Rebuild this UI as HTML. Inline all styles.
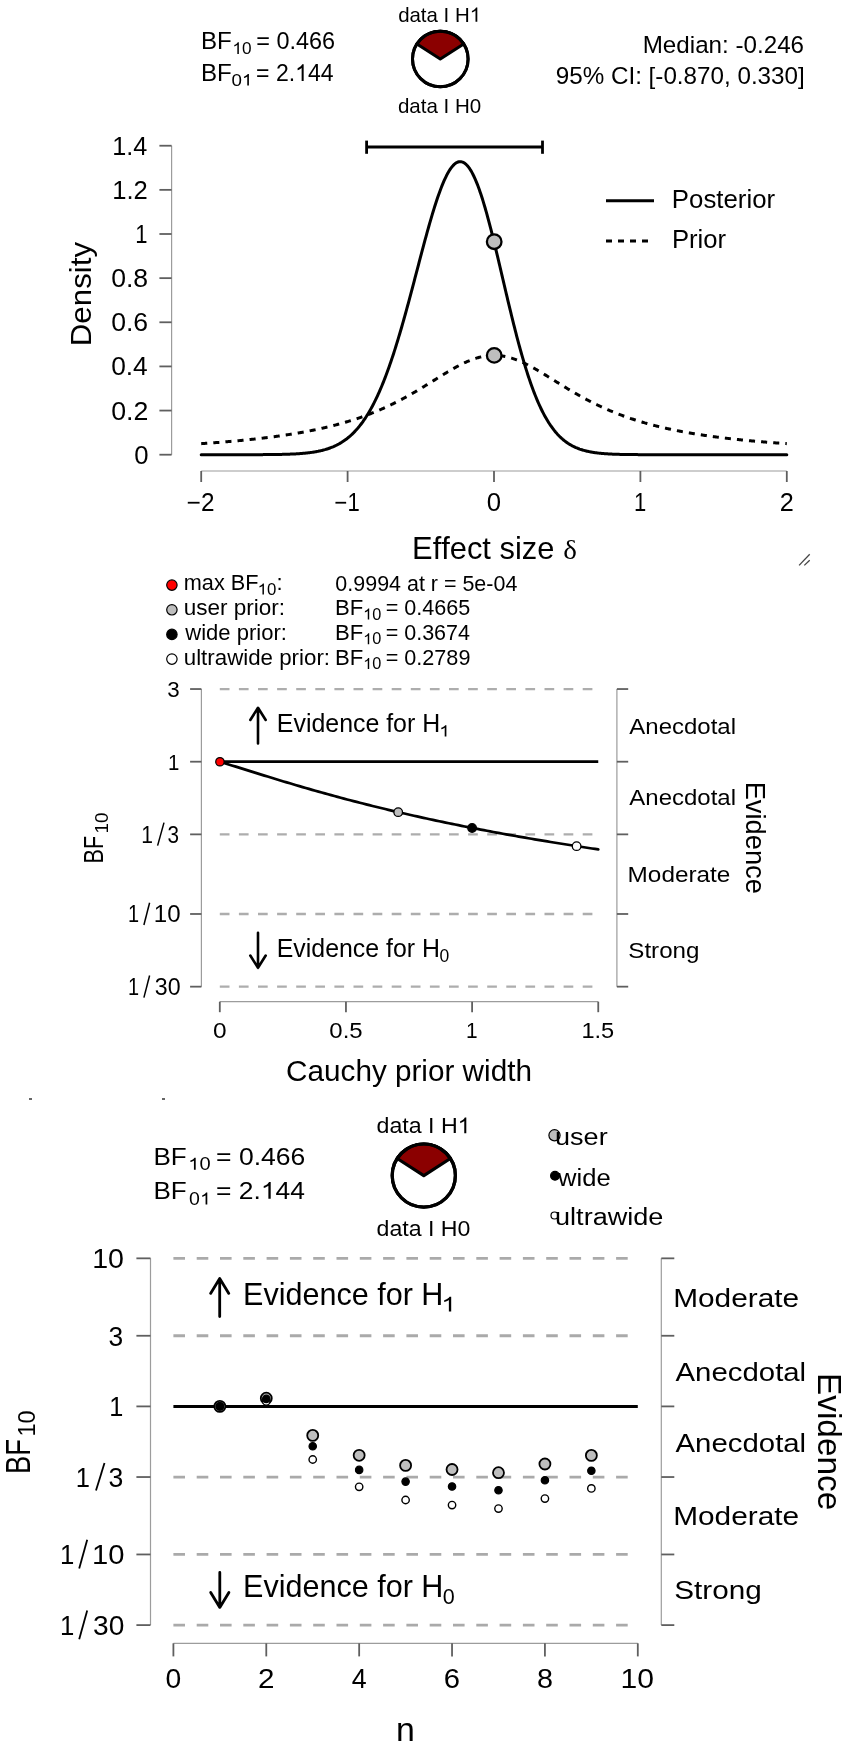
<!DOCTYPE html>
<html><head><meta charset="utf-8"><style>
html,body{margin:0;padding:0;background:#fff;}
svg{display:block;will-change:transform;}
text{font-family:"Liberation Sans",sans-serif;font-kerning:none;}
</style></head><body>
<svg width="851" height="1748" viewBox="0 0 851 1748">
<rect width="851" height="1748" fill="#fff"/>
<g id="p1">
<line x1="171.60" y1="454.70" x2="171.60" y2="145.72" stroke="#9c9c9c" stroke-width="1.2"/>
<line x1="159.40" y1="454.70" x2="171.60" y2="454.70" stroke="#5f5f5f" stroke-width="1.8"/>
<line x1="159.40" y1="410.56" x2="171.60" y2="410.56" stroke="#5f5f5f" stroke-width="1.8"/>
<line x1="159.40" y1="366.42" x2="171.60" y2="366.42" stroke="#5f5f5f" stroke-width="1.8"/>
<line x1="159.40" y1="322.28" x2="171.60" y2="322.28" stroke="#5f5f5f" stroke-width="1.8"/>
<line x1="159.40" y1="278.14" x2="171.60" y2="278.14" stroke="#5f5f5f" stroke-width="1.8"/>
<line x1="159.40" y1="234.00" x2="171.60" y2="234.00" stroke="#5f5f5f" stroke-width="1.8"/>
<line x1="159.40" y1="189.86" x2="171.60" y2="189.86" stroke="#5f5f5f" stroke-width="1.8"/>
<line x1="159.40" y1="145.72" x2="171.60" y2="145.72" stroke="#5f5f5f" stroke-width="1.8"/>
<line x1="201.20" y1="471.00" x2="786.80" y2="471.00" stroke="#9c9c9c" stroke-width="1.2"/>
<line x1="201.20" y1="471.00" x2="201.20" y2="482.00" stroke="#5f5f5f" stroke-width="1.8"/>
<line x1="347.60" y1="471.00" x2="347.60" y2="482.00" stroke="#5f5f5f" stroke-width="1.8"/>
<line x1="494.00" y1="471.00" x2="494.00" y2="482.00" stroke="#5f5f5f" stroke-width="1.8"/>
<line x1="640.40" y1="471.00" x2="640.40" y2="482.00" stroke="#5f5f5f" stroke-width="1.8"/>
<line x1="786.80" y1="471.00" x2="786.80" y2="482.00" stroke="#5f5f5f" stroke-width="1.8"/>
<text x="134.19" y="463.70" font-size="26.00" textLength="14.31" lengthAdjust="spacingAndGlyphs" fill="#000">0</text>
<text x="111.15" y="419.56" font-size="26.00" textLength="37.19" lengthAdjust="spacingAndGlyphs" fill="#000">0.2</text>
<text x="111.17" y="375.42" font-size="26.00" textLength="36.60" lengthAdjust="spacingAndGlyphs" fill="#000">0.4</text>
<text x="111.16" y="331.28" font-size="26.00" textLength="37.01" lengthAdjust="spacingAndGlyphs" fill="#000">0.6</text>
<text x="111.16" y="287.14" font-size="26.00" textLength="37.00" lengthAdjust="spacingAndGlyphs" fill="#000">0.8</text>
<text x="135.32" y="243.00" font-size="26.00" textLength="12.25" lengthAdjust="spacingAndGlyphs" fill="#000">1</text>
<text x="112.15" y="198.86" font-size="26.00" textLength="35.64" lengthAdjust="spacingAndGlyphs" fill="#000">1.2</text>
<text x="112.18" y="154.72" font-size="26.00" textLength="35.06" lengthAdjust="spacingAndGlyphs" fill="#000">1.4</text>
<text x="186.85" y="511.00" font-size="25.50" textLength="27.72" lengthAdjust="spacingAndGlyphs" fill="#000">−2</text>
<text x="334.51" y="511.00" font-size="25.50" textLength="25.17" lengthAdjust="spacingAndGlyphs" fill="#000">−1</text>
<text x="486.84" y="511.00" font-size="25.50" textLength="14.31" lengthAdjust="spacingAndGlyphs" fill="#000">0</text>
<text x="633.97" y="511.00" font-size="25.50" textLength="12.25" lengthAdjust="spacingAndGlyphs" fill="#000">1</text>
<text x="779.78" y="511.00" font-size="25.50" textLength="14.04" lengthAdjust="spacingAndGlyphs" fill="#000">2</text>
<g transform="translate(90.60,343.70) rotate(-90)"><text x="-2.57" y="0.00" font-size="29.50" textLength="104.33" lengthAdjust="spacingAndGlyphs" fill="#000">Density</text></g>
<text x="412.07" y="558.80" font-size="31.30" textLength="142.30" lengthAdjust="spacingAndGlyphs" fill="#000">Effect size</text>
<text x="563.21" y="559.0" font-size="27.5" textLength="13.68" lengthAdjust="spacingAndGlyphs" style="font-family:'Liberation Serif',serif">δ</text>
<path d="M201.20,443.66 L201.93,443.61 L202.66,443.56 L203.40,443.51 L204.13,443.46 L204.86,443.41 L205.59,443.36 L206.32,443.31 L207.06,443.26 L207.79,443.21 L208.52,443.15 L209.25,443.10 L209.98,443.05 L210.72,443.00 L211.45,442.94 L212.18,442.89 L212.91,442.83 L213.64,442.78 L214.38,442.72 L215.11,442.67 L215.84,442.61 L216.57,442.56 L217.30,442.50 L218.04,442.44 L218.77,442.39 L219.50,442.33 L220.23,442.27 L220.96,442.21 L221.70,442.15 L222.43,442.10 L223.16,442.04 L223.89,441.98 L224.62,441.92 L225.36,441.85 L226.09,441.79 L226.82,441.73 L227.55,441.67 L228.28,441.61 L229.02,441.54 L229.75,441.48 L230.48,441.42 L231.21,441.35 L231.94,441.29 L232.68,441.22 L233.41,441.16 L234.14,441.09 L234.87,441.03 L235.60,440.96 L236.34,440.89 L237.07,440.82 L237.80,440.76 L238.53,440.69 L239.26,440.62 L240.00,440.55 L240.73,440.48 L241.46,440.41 L242.19,440.34 L242.92,440.26 L243.66,440.19 L244.39,440.12 L245.12,440.05 L245.85,439.97 L246.58,439.90 L247.32,439.82 L248.05,439.75 L248.78,439.67 L249.51,439.60 L250.24,439.52 L250.98,439.44 L251.71,439.36 L252.44,439.29 L253.17,439.21 L253.90,439.13 L254.64,439.05 L255.37,438.96 L256.10,438.88 L256.83,438.80 L257.56,438.72 L258.30,438.63 L259.03,438.55 L259.76,438.47 L260.49,438.38 L261.22,438.30 L261.96,438.21 L262.69,438.12 L263.42,438.03 L264.15,437.95 L264.88,437.86 L265.62,437.77 L266.35,437.68 L267.08,437.59 L267.81,437.49 L268.54,437.40 L269.28,437.31 L270.01,437.21 L270.74,437.12 L271.47,437.02 L272.20,436.93 L272.94,436.83 L273.67,436.73 L274.40,436.64 L275.13,436.54 L275.86,436.44 L276.60,436.34 L277.33,436.24 L278.06,436.13 L278.79,436.03 L279.52,435.93 L280.26,435.82 L280.99,435.72 L281.72,435.61 L282.45,435.51 L283.18,435.40 L283.92,435.29 L284.65,435.18 L285.38,435.07 L286.11,434.96 L286.84,434.85 L287.58,434.74 L288.31,434.62 L289.04,434.51 L289.77,434.39 L290.50,434.28 L291.24,434.16 L291.97,434.04 L292.70,433.92 L293.43,433.80 L294.16,433.68 L294.90,433.56 L295.63,433.44 L296.36,433.31 L297.09,433.19 L297.82,433.06 L298.56,432.93 L299.29,432.81 L300.02,432.68 L300.75,432.55 L301.48,432.42 L302.22,432.28 L302.95,432.15 L303.68,432.02 L304.41,431.88 L305.14,431.75 L305.88,431.61 L306.61,431.47 L307.34,431.33 L308.07,431.19 L308.80,431.05 L309.54,430.90 L310.27,430.76 L311.00,430.62 L311.73,430.47 L312.46,430.32 L313.20,430.17 L313.93,430.02 L314.66,429.87 L315.39,429.72 L316.12,429.56 L316.86,429.41 L317.59,429.25 L318.32,429.09 L319.05,428.94 L319.78,428.78 L320.52,428.61 L321.25,428.45 L321.98,428.29 L322.71,428.12 L323.44,427.95 L324.18,427.78 L324.91,427.61 L325.64,427.44 L326.37,427.27 L327.10,427.10 L327.84,426.92 L328.57,426.74 L329.30,426.57 L330.03,426.39 L330.76,426.20 L331.50,426.02 L332.23,425.84 L332.96,425.65 L333.69,425.46 L334.42,425.27 L335.16,425.08 L335.89,424.89 L336.62,424.70 L337.35,424.50 L338.08,424.30 L338.82,424.10 L339.55,423.90 L340.28,423.70 L341.01,423.50 L341.74,423.29 L342.48,423.08 L343.21,422.88 L343.94,422.66 L344.67,422.45 L345.40,422.24 L346.14,422.02 L346.87,421.80 L347.60,421.58 L348.33,421.36 L349.06,421.14 L349.80,420.91 L350.53,420.69 L351.26,420.46 L351.99,420.23 L352.72,419.99 L353.46,419.76 L354.19,419.52 L354.92,419.28 L355.65,419.04 L356.38,418.80 L357.12,418.55 L357.85,418.31 L358.58,418.06 L359.31,417.81 L360.04,417.55 L360.78,417.30 L361.51,417.04 L362.24,416.78 L362.97,416.52 L363.70,416.25 L364.44,415.99 L365.17,415.72 L365.90,415.45 L366.63,415.18 L367.36,414.90 L368.10,414.63 L368.83,414.35 L369.56,414.07 L370.29,413.78 L371.02,413.50 L371.76,413.21 L372.49,412.92 L373.22,412.62 L373.95,412.33 L374.68,412.03 L375.42,411.73 L376.15,411.43 L376.88,411.13 L377.61,410.82 L378.34,410.51 L379.08,410.20 L379.81,409.88 L380.54,409.57 L381.27,409.25 L382.00,408.93 L382.74,408.60 L383.47,408.28 L384.20,407.95 L384.93,407.62 L385.66,407.28 L386.40,406.95 L387.13,406.61 L387.86,406.27 L388.59,405.92 L389.32,405.58 L390.06,405.23 L390.79,404.88 L391.52,404.52 L392.25,404.17 L392.98,403.81 L393.72,403.45 L394.45,403.08 L395.18,402.72 L395.91,402.35 L396.64,401.98 L397.38,401.61 L398.11,401.23 L398.84,400.85 L399.57,400.47 L400.30,400.09 L401.04,399.70 L401.77,399.31 L402.50,398.92 L403.23,398.53 L403.96,398.14 L404.70,397.74 L405.43,397.34 L406.16,396.94 L406.89,396.53 L407.62,396.13 L408.36,395.72 L409.09,395.31 L409.82,394.90 L410.55,394.48 L411.28,394.06 L412.02,393.64 L412.75,393.22 L413.48,392.80 L414.21,392.37 L414.94,391.95 L415.68,391.52 L416.41,391.09 L417.14,390.65 L417.87,390.22 L418.60,389.78 L419.34,389.35 L420.07,388.91 L420.80,388.47 L421.53,388.02 L422.26,387.58 L423.00,387.14 L423.73,386.69 L424.46,386.24 L425.19,385.79 L425.92,385.34 L426.66,384.89 L427.39,384.44 L428.12,383.99 L428.85,383.53 L429.58,383.08 L430.32,382.63 L431.05,382.17 L431.78,381.72 L432.51,381.26 L433.24,380.80 L433.98,380.35 L434.71,379.89 L435.44,379.43 L436.17,378.98 L436.90,378.52 L437.64,378.07 L438.37,377.61 L439.10,377.16 L439.83,376.70 L440.56,376.25 L441.30,375.80 L442.03,375.35 L442.76,374.90 L443.49,374.45 L444.22,374.01 L444.96,373.56 L445.69,373.12 L446.42,372.68 L447.15,372.24 L447.88,371.80 L448.62,371.37 L449.35,370.93 L450.08,370.50 L450.81,370.08 L451.54,369.65 L452.28,369.23 L453.01,368.82 L453.74,368.40 L454.47,367.99 L455.20,367.58 L455.94,367.18 L456.67,366.78 L457.40,366.39 L458.13,366.00 L458.86,365.61 L459.60,365.23 L460.33,364.85 L461.06,364.48 L461.79,364.12 L462.52,363.76 L463.26,363.40 L463.99,363.05 L464.72,362.71 L465.45,362.37 L466.18,362.04 L466.92,361.71 L467.65,361.40 L468.38,361.08 L469.11,360.78 L469.84,360.48 L470.58,360.19 L471.31,359.90 L472.04,359.63 L472.77,359.36 L473.50,359.10 L474.24,358.84 L474.97,358.60 L475.70,358.36 L476.43,358.13 L477.16,357.91 L477.90,357.70 L478.63,357.49 L479.36,357.30 L480.09,357.11 L480.82,356.93 L481.56,356.76 L482.29,356.60 L483.02,356.45 L483.75,356.31 L484.48,356.18 L485.22,356.06 L485.95,355.95 L486.68,355.84 L487.41,355.75 L488.14,355.67 L488.88,355.59 L489.61,355.53 L490.34,355.47 L491.07,355.43 L491.80,355.39 L492.54,355.37 L493.27,355.35 L494.00,355.35 L494.73,355.35 L495.46,355.37 L496.20,355.39 L496.93,355.43 L497.66,355.47 L498.39,355.53 L499.12,355.59 L499.86,355.67 L500.59,355.75 L501.32,355.84 L502.05,355.95 L502.78,356.06 L503.52,356.18 L504.25,356.31 L504.98,356.45 L505.71,356.60 L506.44,356.76 L507.18,356.93 L507.91,357.11 L508.64,357.30 L509.37,357.49 L510.10,357.70 L510.84,357.91 L511.57,358.13 L512.30,358.36 L513.03,358.60 L513.76,358.84 L514.50,359.10 L515.23,359.36 L515.96,359.63 L516.69,359.90 L517.42,360.19 L518.16,360.48 L518.89,360.78 L519.62,361.08 L520.35,361.40 L521.08,361.71 L521.82,362.04 L522.55,362.37 L523.28,362.71 L524.01,363.05 L524.74,363.40 L525.48,363.76 L526.21,364.12 L526.94,364.48 L527.67,364.85 L528.40,365.23 L529.14,365.61 L529.87,366.00 L530.60,366.39 L531.33,366.78 L532.06,367.18 L532.80,367.58 L533.53,367.99 L534.26,368.40 L534.99,368.82 L535.72,369.23 L536.46,369.65 L537.19,370.08 L537.92,370.50 L538.65,370.93 L539.38,371.37 L540.12,371.80 L540.85,372.24 L541.58,372.68 L542.31,373.12 L543.04,373.56 L543.78,374.01 L544.51,374.45 L545.24,374.90 L545.97,375.35 L546.70,375.80 L547.44,376.25 L548.17,376.70 L548.90,377.16 L549.63,377.61 L550.36,378.07 L551.10,378.52 L551.83,378.98 L552.56,379.43 L553.29,379.89 L554.02,380.35 L554.76,380.80 L555.49,381.26 L556.22,381.72 L556.95,382.17 L557.68,382.63 L558.42,383.08 L559.15,383.53 L559.88,383.99 L560.61,384.44 L561.34,384.89 L562.08,385.34 L562.81,385.79 L563.54,386.24 L564.27,386.69 L565.00,387.14 L565.74,387.58 L566.47,388.02 L567.20,388.47 L567.93,388.91 L568.66,389.35 L569.40,389.78 L570.13,390.22 L570.86,390.65 L571.59,391.09 L572.32,391.52 L573.06,391.95 L573.79,392.37 L574.52,392.80 L575.25,393.22 L575.98,393.64 L576.72,394.06 L577.45,394.48 L578.18,394.90 L578.91,395.31 L579.64,395.72 L580.38,396.13 L581.11,396.53 L581.84,396.94 L582.57,397.34 L583.30,397.74 L584.04,398.14 L584.77,398.53 L585.50,398.92 L586.23,399.31 L586.96,399.70 L587.70,400.09 L588.43,400.47 L589.16,400.85 L589.89,401.23 L590.62,401.61 L591.36,401.98 L592.09,402.35 L592.82,402.72 L593.55,403.08 L594.28,403.45 L595.02,403.81 L595.75,404.17 L596.48,404.52 L597.21,404.88 L597.94,405.23 L598.68,405.58 L599.41,405.92 L600.14,406.27 L600.87,406.61 L601.60,406.95 L602.34,407.28 L603.07,407.62 L603.80,407.95 L604.53,408.28 L605.26,408.60 L606.00,408.93 L606.73,409.25 L607.46,409.57 L608.19,409.88 L608.92,410.20 L609.66,410.51 L610.39,410.82 L611.12,411.13 L611.85,411.43 L612.58,411.73 L613.32,412.03 L614.05,412.33 L614.78,412.62 L615.51,412.92 L616.24,413.21 L616.98,413.50 L617.71,413.78 L618.44,414.07 L619.17,414.35 L619.90,414.63 L620.64,414.90 L621.37,415.18 L622.10,415.45 L622.83,415.72 L623.56,415.99 L624.30,416.25 L625.03,416.52 L625.76,416.78 L626.49,417.04 L627.22,417.30 L627.96,417.55 L628.69,417.81 L629.42,418.06 L630.15,418.31 L630.88,418.55 L631.62,418.80 L632.35,419.04 L633.08,419.28 L633.81,419.52 L634.54,419.76 L635.28,419.99 L636.01,420.23 L636.74,420.46 L637.47,420.69 L638.20,420.91 L638.94,421.14 L639.67,421.36 L640.40,421.58 L641.13,421.80 L641.86,422.02 L642.60,422.24 L643.33,422.45 L644.06,422.66 L644.79,422.88 L645.52,423.08 L646.26,423.29 L646.99,423.50 L647.72,423.70 L648.45,423.90 L649.18,424.10 L649.92,424.30 L650.65,424.50 L651.38,424.70 L652.11,424.89 L652.84,425.08 L653.58,425.27 L654.31,425.46 L655.04,425.65 L655.77,425.84 L656.50,426.02 L657.24,426.20 L657.97,426.39 L658.70,426.57 L659.43,426.74 L660.16,426.92 L660.90,427.10 L661.63,427.27 L662.36,427.44 L663.09,427.61 L663.82,427.78 L664.56,427.95 L665.29,428.12 L666.02,428.29 L666.75,428.45 L667.48,428.61 L668.22,428.78 L668.95,428.94 L669.68,429.09 L670.41,429.25 L671.14,429.41 L671.88,429.56 L672.61,429.72 L673.34,429.87 L674.07,430.02 L674.80,430.17 L675.54,430.32 L676.27,430.47 L677.00,430.62 L677.73,430.76 L678.46,430.90 L679.20,431.05 L679.93,431.19 L680.66,431.33 L681.39,431.47 L682.12,431.61 L682.86,431.75 L683.59,431.88 L684.32,432.02 L685.05,432.15 L685.78,432.28 L686.52,432.42 L687.25,432.55 L687.98,432.68 L688.71,432.81 L689.44,432.93 L690.18,433.06 L690.91,433.19 L691.64,433.31 L692.37,433.44 L693.10,433.56 L693.84,433.68 L694.57,433.80 L695.30,433.92 L696.03,434.04 L696.76,434.16 L697.50,434.28 L698.23,434.39 L698.96,434.51 L699.69,434.62 L700.42,434.74 L701.16,434.85 L701.89,434.96 L702.62,435.07 L703.35,435.18 L704.08,435.29 L704.82,435.40 L705.55,435.51 L706.28,435.61 L707.01,435.72 L707.74,435.82 L708.48,435.93 L709.21,436.03 L709.94,436.13 L710.67,436.24 L711.40,436.34 L712.14,436.44 L712.87,436.54 L713.60,436.64 L714.33,436.73 L715.06,436.83 L715.80,436.93 L716.53,437.02 L717.26,437.12 L717.99,437.21 L718.72,437.31 L719.46,437.40 L720.19,437.49 L720.92,437.59 L721.65,437.68 L722.38,437.77 L723.12,437.86 L723.85,437.95 L724.58,438.03 L725.31,438.12 L726.04,438.21 L726.78,438.30 L727.51,438.38 L728.24,438.47 L728.97,438.55 L729.70,438.63 L730.44,438.72 L731.17,438.80 L731.90,438.88 L732.63,438.96 L733.36,439.05 L734.10,439.13 L734.83,439.21 L735.56,439.29 L736.29,439.36 L737.02,439.44 L737.76,439.52 L738.49,439.60 L739.22,439.67 L739.95,439.75 L740.68,439.82 L741.42,439.90 L742.15,439.97 L742.88,440.05 L743.61,440.12 L744.34,440.19 L745.08,440.26 L745.81,440.34 L746.54,440.41 L747.27,440.48 L748.00,440.55 L748.74,440.62 L749.47,440.69 L750.20,440.76 L750.93,440.82 L751.66,440.89 L752.40,440.96 L753.13,441.03 L753.86,441.09 L754.59,441.16 L755.32,441.22 L756.06,441.29 L756.79,441.35 L757.52,441.42 L758.25,441.48 L758.98,441.54 L759.72,441.61 L760.45,441.67 L761.18,441.73 L761.91,441.79 L762.64,441.85 L763.38,441.92 L764.11,441.98 L764.84,442.04 L765.57,442.10 L766.30,442.15 L767.04,442.21 L767.77,442.27 L768.50,442.33 L769.23,442.39 L769.96,442.44 L770.70,442.50 L771.43,442.56 L772.16,442.61 L772.89,442.67 L773.62,442.72 L774.36,442.78 L775.09,442.83 L775.82,442.89 L776.55,442.94 L777.28,443.00 L778.02,443.05 L778.75,443.10 L779.48,443.15 L780.21,443.21 L780.94,443.26 L781.68,443.31 L782.41,443.36 L783.14,443.41 L783.87,443.46 L784.60,443.51 L785.34,443.56 L786.07,443.61 L786.80,443.66" fill="none" stroke="#000" stroke-width="3.0" stroke-linejoin="round" stroke-linecap="butt" stroke-dasharray="6.07 6.07"/>
<path d="M201.20,454.70 L201.93,454.70 L202.66,454.70 L203.40,454.70 L204.13,454.70 L204.86,454.70 L205.59,454.70 L206.32,454.70 L207.06,454.70 L207.79,454.70 L208.52,454.70 L209.25,454.70 L209.98,454.70 L210.72,454.70 L211.45,454.70 L212.18,454.70 L212.91,454.70 L213.64,454.70 L214.38,454.70 L215.11,454.70 L215.84,454.70 L216.57,454.70 L217.30,454.70 L218.04,454.70 L218.77,454.70 L219.50,454.70 L220.23,454.70 L220.96,454.70 L221.70,454.70 L222.43,454.70 L223.16,454.70 L223.89,454.70 L224.62,454.70 L225.36,454.70 L226.09,454.70 L226.82,454.70 L227.55,454.70 L228.28,454.70 L229.02,454.70 L229.75,454.70 L230.48,454.70 L231.21,454.70 L231.94,454.69 L232.68,454.69 L233.41,454.69 L234.14,454.69 L234.87,454.69 L235.60,454.69 L236.34,454.69 L237.07,454.69 L237.80,454.69 L238.53,454.69 L239.26,454.69 L240.00,454.69 L240.73,454.69 L241.46,454.69 L242.19,454.69 L242.92,454.69 L243.66,454.69 L244.39,454.68 L245.12,454.68 L245.85,454.68 L246.58,454.68 L247.32,454.68 L248.05,454.68 L248.78,454.68 L249.51,454.68 L250.24,454.67 L250.98,454.67 L251.71,454.67 L252.44,454.67 L253.17,454.67 L253.90,454.66 L254.64,454.66 L255.37,454.66 L256.10,454.66 L256.83,454.65 L257.56,454.65 L258.30,454.65 L259.03,454.65 L259.76,454.64 L260.49,454.64 L261.22,454.64 L261.96,454.63 L262.69,454.63 L263.42,454.62 L264.15,454.62 L264.88,454.61 L265.62,454.61 L266.35,454.60 L267.08,454.60 L267.81,454.59 L268.54,454.58 L269.28,454.58 L270.01,454.57 L270.74,454.56 L271.47,454.56 L272.20,454.55 L272.94,454.54 L273.67,454.53 L274.40,454.52 L275.13,454.51 L275.86,454.50 L276.60,454.49 L277.33,454.47 L278.06,454.46 L278.79,454.45 L279.52,454.44 L280.26,454.42 L280.99,454.41 L281.72,454.39 L282.45,454.37 L283.18,454.35 L283.92,454.34 L284.65,454.32 L285.38,454.30 L286.11,454.27 L286.84,454.25 L287.58,454.23 L288.31,454.20 L289.04,454.18 L289.77,454.15 L290.50,454.12 L291.24,454.09 L291.97,454.06 L292.70,454.03 L293.43,453.99 L294.16,453.95 L294.90,453.92 L295.63,453.88 L296.36,453.84 L297.09,453.79 L297.82,453.75 L298.56,453.70 L299.29,453.65 L300.02,453.60 L300.75,453.54 L301.48,453.49 L302.22,453.43 L302.95,453.36 L303.68,453.30 L304.41,453.23 L305.14,453.16 L305.88,453.09 L306.61,453.01 L307.34,452.93 L308.07,452.85 L308.80,452.76 L309.54,452.67 L310.27,452.58 L311.00,452.48 L311.73,452.38 L312.46,452.27 L313.20,452.16 L313.93,452.04 L314.66,451.92 L315.39,451.80 L316.12,451.67 L316.86,451.53 L317.59,451.39 L318.32,451.25 L319.05,451.09 L319.78,450.93 L320.52,450.77 L321.25,450.60 L321.98,450.42 L322.71,450.24 L323.44,450.05 L324.18,449.85 L324.91,449.65 L325.64,449.43 L326.37,449.21 L327.10,448.98 L327.84,448.74 L328.57,448.50 L329.30,448.24 L330.03,447.98 L330.76,447.71 L331.50,447.42 L332.23,447.13 L332.96,446.83 L333.69,446.51 L334.42,446.19 L335.16,445.85 L335.89,445.50 L336.62,445.15 L337.35,444.77 L338.08,444.39 L338.82,444.00 L339.55,443.59 L340.28,443.16 L341.01,442.73 L341.74,442.28 L342.48,441.81 L343.21,441.33 L343.94,440.84 L344.67,440.33 L345.40,439.81 L346.14,439.26 L346.87,438.71 L347.60,438.13 L348.33,437.54 L349.06,436.93 L349.80,436.30 L350.53,435.66 L351.26,434.99 L351.99,434.31 L352.72,433.61 L353.46,432.89 L354.19,432.14 L354.92,431.38 L355.65,430.60 L356.38,429.79 L357.12,428.96 L357.85,428.11 L358.58,427.24 L359.31,426.35 L360.04,425.43 L360.78,424.49 L361.51,423.52 L362.24,422.53 L362.97,421.52 L363.70,420.48 L364.44,419.41 L365.17,418.32 L365.90,417.20 L366.63,416.06 L367.36,414.89 L368.10,413.69 L368.83,412.47 L369.56,411.22 L370.29,409.94 L371.02,408.63 L371.76,407.29 L372.49,405.93 L373.22,404.53 L373.95,403.11 L374.68,401.65 L375.42,400.17 L376.15,398.66 L376.88,397.11 L377.61,395.54 L378.34,393.94 L379.08,392.30 L379.81,390.64 L380.54,388.94 L381.27,387.21 L382.00,385.46 L382.74,383.67 L383.47,381.85 L384.20,380.00 L384.93,378.12 L385.66,376.20 L386.40,374.26 L387.13,372.29 L387.86,370.28 L388.59,368.25 L389.32,366.18 L390.06,364.09 L390.79,361.96 L391.52,359.81 L392.25,357.62 L392.98,355.41 L393.72,353.16 L394.45,350.89 L395.18,348.59 L395.91,346.27 L396.64,343.91 L397.38,341.53 L398.11,339.13 L398.84,336.69 L399.57,334.24 L400.30,331.76 L401.04,329.25 L401.77,326.72 L402.50,324.17 L403.23,321.60 L403.96,319.01 L404.70,316.39 L405.43,313.76 L406.16,311.11 L406.89,308.44 L407.62,305.76 L408.36,303.06 L409.09,300.34 L409.82,297.61 L410.55,294.87 L411.28,292.12 L412.02,289.36 L412.75,286.59 L413.48,283.81 L414.21,281.03 L414.94,278.24 L415.68,275.45 L416.41,272.65 L417.14,269.86 L417.87,267.06 L418.60,264.27 L419.34,261.48 L420.07,258.70 L420.80,255.92 L421.53,253.15 L422.26,250.39 L423.00,247.64 L423.73,244.90 L424.46,242.18 L425.19,239.47 L425.92,236.78 L426.66,234.11 L427.39,231.47 L428.12,228.84 L428.85,226.24 L429.58,223.67 L430.32,221.12 L431.05,218.61 L431.78,216.12 L432.51,213.67 L433.24,211.26 L433.98,208.88 L434.71,206.54 L435.44,204.24 L436.17,201.98 L436.90,199.77 L437.64,197.61 L438.37,195.49 L439.10,193.42 L439.83,191.40 L440.56,189.44 L441.30,187.53 L442.03,185.67 L442.76,183.88 L443.49,182.14 L444.22,180.46 L444.96,178.85 L445.69,177.30 L446.42,175.81 L447.15,174.40 L447.88,173.05 L448.62,171.77 L449.35,170.56 L450.08,169.42 L450.81,168.36 L451.54,167.37 L452.28,166.46 L453.01,165.62 L453.74,164.86 L454.47,164.18 L455.20,163.58 L455.94,163.06 L456.67,162.62 L457.40,162.26 L458.13,161.99 L458.86,161.80 L459.60,161.69 L460.33,161.66 L461.06,161.72 L461.79,161.86 L462.52,162.09 L463.26,162.40 L463.99,162.79 L464.72,163.27 L465.45,163.84 L466.18,164.49 L466.92,165.22 L467.65,166.03 L468.38,166.93 L469.11,167.91 L469.84,168.97 L470.58,170.12 L471.31,171.34 L472.04,172.64 L472.77,174.02 L473.50,175.48 L474.24,177.02 L474.97,178.63 L475.70,180.31 L476.43,182.07 L477.16,183.90 L477.90,185.80 L478.63,187.76 L479.36,189.80 L480.09,191.90 L480.82,194.06 L481.56,196.28 L482.29,198.57 L483.02,200.91 L483.75,203.32 L484.48,205.77 L485.22,208.28 L485.95,210.84 L486.68,213.44 L487.41,216.10 L488.14,218.80 L488.88,221.54 L489.61,224.32 L490.34,227.14 L491.07,229.99 L491.80,232.88 L492.54,235.80 L493.27,238.75 L494.00,241.73 L494.73,244.73 L495.46,247.76 L496.20,250.80 L496.93,253.86 L497.66,256.94 L498.39,260.03 L499.12,263.14 L499.86,266.25 L500.59,269.37 L501.32,272.50 L502.05,275.63 L502.78,278.76 L503.52,281.89 L504.25,285.02 L504.98,288.14 L505.71,291.26 L506.44,294.36 L507.18,297.46 L507.91,300.55 L508.64,303.62 L509.37,306.67 L510.10,309.71 L510.84,312.73 L511.57,315.73 L512.30,318.71 L513.03,321.66 L513.76,324.59 L514.50,327.49 L515.23,330.37 L515.96,333.22 L516.69,336.04 L517.42,338.82 L518.16,341.58 L518.89,344.31 L519.62,347.00 L520.35,349.65 L521.08,352.27 L521.82,354.86 L522.55,357.41 L523.28,359.92 L524.01,362.39 L524.74,364.83 L525.48,367.22 L526.21,369.58 L526.94,371.90 L527.67,374.18 L528.40,376.42 L529.14,378.61 L529.87,380.77 L530.60,382.89 L531.33,384.96 L532.06,387.00 L532.80,388.99 L533.53,390.94 L534.26,392.85 L534.99,394.73 L535.72,396.56 L536.46,398.35 L537.19,400.10 L537.92,401.81 L538.65,403.48 L539.38,405.11 L540.12,406.70 L540.85,408.26 L541.58,409.77 L542.31,411.25 L543.04,412.69 L543.78,414.10 L544.51,415.46 L545.24,416.79 L545.97,418.09 L546.70,419.35 L547.44,420.58 L548.17,421.77 L548.90,422.93 L549.63,424.05 L550.36,425.15 L551.10,426.21 L551.83,427.24 L552.56,428.24 L553.29,429.21 L554.02,430.15 L554.76,431.06 L555.49,431.95 L556.22,432.80 L556.95,433.63 L557.68,434.44 L558.42,435.21 L559.15,435.96 L559.88,436.69 L560.61,437.40 L561.34,438.08 L562.08,438.73 L562.81,439.37 L563.54,439.98 L564.27,440.57 L565.00,441.14 L565.74,441.70 L566.47,442.23 L567.20,442.74 L567.93,443.24 L568.66,443.71 L569.40,444.17 L570.13,444.61 L570.86,445.04 L571.59,445.45 L572.32,445.85 L573.06,446.23 L573.79,446.59 L574.52,446.94 L575.25,447.28 L575.98,447.61 L576.72,447.92 L577.45,448.22 L578.18,448.51 L578.91,448.78 L579.64,449.05 L580.38,449.30 L581.11,449.55 L581.84,449.78 L582.57,450.01 L583.30,450.22 L584.04,450.43 L584.77,450.63 L585.50,450.82 L586.23,451.00 L586.96,451.18 L587.70,451.34 L588.43,451.50 L589.16,451.65 L589.89,451.80 L590.62,451.94 L591.36,452.07 L592.09,452.20 L592.82,452.32 L593.55,452.44 L594.28,452.55 L595.02,452.66 L595.75,452.76 L596.48,452.85 L597.21,452.95 L597.94,453.03 L598.68,453.12 L599.41,453.20 L600.14,453.27 L600.87,453.35 L601.60,453.42 L602.34,453.48 L603.07,453.54 L603.80,453.60 L604.53,453.66 L605.26,453.72 L606.00,453.77 L606.73,453.82 L607.46,453.86 L608.19,453.91 L608.92,453.95 L609.66,453.99 L610.39,454.03 L611.12,454.06 L611.85,454.10 L612.58,454.13 L613.32,454.16 L614.05,454.19 L614.78,454.22 L615.51,454.25 L616.24,454.27 L616.98,454.29 L617.71,454.32 L618.44,454.34 L619.17,454.36 L619.90,454.38 L620.64,454.40 L621.37,454.41 L622.10,454.43 L622.83,454.44 L623.56,454.46 L624.30,454.47 L625.03,454.49 L625.76,454.50 L626.49,454.51 L627.22,454.52 L627.96,454.53 L628.69,454.54 L629.42,454.55 L630.15,454.56 L630.88,454.57 L631.62,454.58 L632.35,454.58 L633.08,454.59 L633.81,454.60 L634.54,454.60 L635.28,454.61 L636.01,454.61 L636.74,454.62 L637.47,454.62 L638.20,454.63 L638.94,454.63 L639.67,454.64 L640.40,454.64 L641.13,454.64 L641.86,454.65 L642.60,454.65 L643.33,454.65 L644.06,454.66 L644.79,454.66 L645.52,454.66 L646.26,454.66 L646.99,454.67 L647.72,454.67 L648.45,454.67 L649.18,454.67 L649.92,454.67 L650.65,454.68 L651.38,454.68 L652.11,454.68 L652.84,454.68 L653.58,454.68 L654.31,454.68 L655.04,454.68 L655.77,454.69 L656.50,454.69 L657.24,454.69 L657.97,454.69 L658.70,454.69 L659.43,454.69 L660.16,454.69 L660.90,454.69 L661.63,454.69 L662.36,454.69 L663.09,454.69 L663.82,454.69 L664.56,454.69 L665.29,454.69 L666.02,454.69 L666.75,454.69 L667.48,454.70 L668.22,454.70 L668.95,454.70 L669.68,454.70 L670.41,454.70 L671.14,454.70 L671.88,454.70 L672.61,454.70 L673.34,454.70 L674.07,454.70 L674.80,454.70 L675.54,454.70 L676.27,454.70 L677.00,454.70 L677.73,454.70 L678.46,454.70 L679.20,454.70 L679.93,454.70 L680.66,454.70 L681.39,454.70 L682.12,454.70 L682.86,454.70 L683.59,454.70 L684.32,454.70 L685.05,454.70 L685.78,454.70 L686.52,454.70 L687.25,454.70 L687.98,454.70 L688.71,454.70 L689.44,454.70 L690.18,454.70 L690.91,454.70 L691.64,454.70 L692.37,454.70 L693.10,454.70 L693.84,454.70 L694.57,454.70 L695.30,454.70 L696.03,454.70 L696.76,454.70 L697.50,454.70 L698.23,454.70 L698.96,454.70 L699.69,454.70 L700.42,454.70 L701.16,454.70 L701.89,454.70 L702.62,454.70 L703.35,454.70 L704.08,454.70 L704.82,454.70 L705.55,454.70 L706.28,454.70 L707.01,454.70 L707.74,454.70 L708.48,454.70 L709.21,454.70 L709.94,454.70 L710.67,454.70 L711.40,454.70 L712.14,454.70 L712.87,454.70 L713.60,454.70 L714.33,454.70 L715.06,454.70 L715.80,454.70 L716.53,454.70 L717.26,454.70 L717.99,454.70 L718.72,454.70 L719.46,454.70 L720.19,454.70 L720.92,454.70 L721.65,454.70 L722.38,454.70 L723.12,454.70 L723.85,454.70 L724.58,454.70 L725.31,454.70 L726.04,454.70 L726.78,454.70 L727.51,454.70 L728.24,454.70 L728.97,454.70 L729.70,454.70 L730.44,454.70 L731.17,454.70 L731.90,454.70 L732.63,454.70 L733.36,454.70 L734.10,454.70 L734.83,454.70 L735.56,454.70 L736.29,454.70 L737.02,454.70 L737.76,454.70 L738.49,454.70 L739.22,454.70 L739.95,454.70 L740.68,454.70 L741.42,454.70 L742.15,454.70 L742.88,454.70 L743.61,454.70 L744.34,454.70 L745.08,454.70 L745.81,454.70 L746.54,454.70 L747.27,454.70 L748.00,454.70 L748.74,454.70 L749.47,454.70 L750.20,454.70 L750.93,454.70 L751.66,454.70 L752.40,454.70 L753.13,454.70 L753.86,454.70 L754.59,454.70 L755.32,454.70 L756.06,454.70 L756.79,454.70 L757.52,454.70 L758.25,454.70 L758.98,454.70 L759.72,454.70 L760.45,454.70 L761.18,454.70 L761.91,454.70 L762.64,454.70 L763.38,454.70 L764.11,454.70 L764.84,454.70 L765.57,454.70 L766.30,454.70 L767.04,454.70 L767.77,454.70 L768.50,454.70 L769.23,454.70 L769.96,454.70 L770.70,454.70 L771.43,454.70 L772.16,454.70 L772.89,454.70 L773.62,454.70 L774.36,454.70 L775.09,454.70 L775.82,454.70 L776.55,454.70 L777.28,454.70 L778.02,454.70 L778.75,454.70 L779.48,454.70 L780.21,454.70 L780.94,454.70 L781.68,454.70 L782.41,454.70 L783.14,454.70 L783.87,454.70 L784.60,454.70 L785.34,454.70 L786.07,454.70 L786.80,454.70" fill="none" stroke="#000" stroke-width="3.0" stroke-linejoin="round" stroke-linecap="round"/>
<line x1="366.63" y1="147.00" x2="542.31" y2="147.00" stroke="#000" stroke-width="3.2"/>
<line x1="366.60" y1="140.60" x2="366.60" y2="153.80" stroke="#000" stroke-width="2.8"/>
<line x1="542.50" y1="140.60" x2="542.50" y2="153.80" stroke="#000" stroke-width="2.8"/>
<circle cx="494.20" cy="241.72" r="7.30" fill="#bebebe" stroke="#000" stroke-width="2.3"/>
<circle cx="494.20" cy="355.38" r="7.30" fill="#bebebe" stroke="#000" stroke-width="2.3"/>
<line x1="606.00" y1="200.70" x2="654.00" y2="200.70" stroke="#000" stroke-width="3.0"/>
<line x1="606.00" y1="240.90" x2="648.00" y2="240.90" stroke="#000" stroke-width="3.0" stroke-dasharray="6 6"/>
<text x="671.88" y="207.80" font-size="25.30" textLength="103.24" lengthAdjust="spacingAndGlyphs" fill="#000">Posterior</text>
<text x="671.90" y="248.00" font-size="25.30" textLength="54.13" lengthAdjust="spacingAndGlyphs" fill="#000">Prior</text>
<text x="200.92" y="49.20" font-size="24.30" textLength="30.85" lengthAdjust="spacingAndGlyphs" fill="#000">BF</text>
<text x="232.43" y="54.00" font-size="17.00" textLength="19.15" lengthAdjust="spacingAndGlyphs" fill="#000"> 0</text><path transform="translate(232.43,54.00) scale(0.00841,-0.00830)" d="M763,0 L583,0 L583,1100 C520,1040 420,975 223,905 L223,1075 C330,1115 420,1165 500,1235 C560,1290 605,1350 633,1409 L763,1409 Z" fill="#000"/>
<text x="256.26" y="49.20" font-size="24.30" textLength="78.88" lengthAdjust="spacingAndGlyphs" fill="#000">= 0.466</text>
<text x="200.92" y="81.00" font-size="24.30" textLength="30.85" lengthAdjust="spacingAndGlyphs" fill="#000">BF</text>
<text x="231.47" y="85.60" font-size="17.00" textLength="20.88" lengthAdjust="spacingAndGlyphs" fill="#000">0 </text><path transform="translate(241.91,85.60) scale(0.00917,-0.00830)" d="M763,0 L583,0 L583,1100 C520,1040 420,975 223,905 L223,1075 C330,1115 420,1165 500,1235 C560,1290 605,1350 633,1409 L763,1409 Z" fill="#000"/>
<text x="256.08" y="81.00" font-size="24.30" textLength="77.40" lengthAdjust="spacingAndGlyphs" fill="#000">= 2. 44</text><path transform="translate(295.09,81.00) scale(0.01123,-0.01187)" d="M763,0 L583,0 L583,1100 C520,1040 420,975 223,905 L223,1075 C330,1115 420,1165 500,1235 C560,1290 605,1350 633,1409 L763,1409 Z" fill="#000"/>
<circle cx="440.3" cy="59" r="27.8" fill="#fff" stroke="#000" stroke-width="3"/><path d="M440.3,59 L416.92,43.96 A27.8,27.8 0 0 1 463.68,43.96 Z" fill="#8b0000" stroke="#000" stroke-width="3" stroke-linejoin="round"/><circle cx="440.3" cy="59" r="27.8" fill="none" stroke="#000" stroke-width="3"/>
<text x="398.14" y="21.80" font-size="20.80" textLength="82.91" lengthAdjust="spacingAndGlyphs" fill="#000">data I H </text><path transform="translate(469.69,21.80) scale(0.00998,-0.01016)" d="M763,0 L583,0 L583,1100 C520,1040 420,975 223,905 L223,1075 C330,1115 420,1165 500,1235 C560,1290 605,1350 633,1409 L763,1409 Z" fill="#000"/>
<text x="397.94" y="112.60" font-size="20.80" textLength="83.37" lengthAdjust="spacingAndGlyphs" fill="#000">data I H0</text>
<text x="642.72" y="52.90" font-size="24.50" textLength="161.35" lengthAdjust="spacingAndGlyphs" fill="#000">Median: -0.246</text>
<text x="555.77" y="83.90" font-size="24.50" textLength="248.96" lengthAdjust="spacingAndGlyphs" fill="#000">95% CI: [-0.870, 0.330]</text>
<line x1="799.10" y1="565.40" x2="809.70" y2="554.30" stroke="#444" stroke-width="1.3"/>
<line x1="804.30" y1="565.40" x2="809.70" y2="560.20" stroke="#444" stroke-width="1.3"/>
</g>
<g id="p2">
<circle cx="171.90" cy="585.10" r="5.20" fill="#ff0000" stroke="#000" stroke-width="1.2"/>
<circle cx="171.90" cy="609.80" r="5.20" fill="#bebebe" stroke="#000" stroke-width="1.2"/>
<circle cx="171.90" cy="634.40" r="5.20" fill="#000" stroke="#000" stroke-width="1.2"/>
<circle cx="171.90" cy="659.10" r="5.20" fill="#fff" stroke="#000" stroke-width="1.2"/>
<text x="183.76" y="590.30" font-size="22.20" textLength="74.71" lengthAdjust="spacingAndGlyphs" fill="#000">max BF</text>
<text x="257.67" y="594.50" font-size="16.00" textLength="18.69" lengthAdjust="spacingAndGlyphs" fill="#000"> 0</text><path transform="translate(257.67,594.50) scale(0.00820,-0.00781)" d="M763,0 L583,0 L583,1100 C520,1040 420,975 223,905 L223,1075 C330,1115 420,1165 500,1235 C560,1290 605,1350 633,1409 L763,1409 Z" fill="#000"/>
<text x="276.49" y="590.30" font-size="22.20" textLength="6.13" lengthAdjust="spacingAndGlyphs" fill="#000">:</text>
<text x="183.74" y="615.10" font-size="22.20" textLength="101.32" lengthAdjust="spacingAndGlyphs" fill="#000">user prior:</text>
<text x="185.23" y="639.90" font-size="22.20" textLength="101.68" lengthAdjust="spacingAndGlyphs" fill="#000">wide prior:</text>
<text x="183.75" y="664.70" font-size="22.20" textLength="146.29" lengthAdjust="spacingAndGlyphs" fill="#000">ultrawide prior:</text>
<text x="335.36" y="590.50" font-size="22.20" textLength="181.97" lengthAdjust="spacingAndGlyphs" fill="#000">0.9994 at r = 5e-04</text>
<text x="334.98" y="615.20" font-size="22.20" textLength="28.30" lengthAdjust="spacingAndGlyphs" fill="#000">BF</text>
<text x="363.13" y="619.50" font-size="16.00" textLength="18.11" lengthAdjust="spacingAndGlyphs" fill="#000"> 0</text><path transform="translate(363.13,619.50) scale(0.00795,-0.00781)" d="M763,0 L583,0 L583,1100 C520,1040 420,975 223,905 L223,1075 C330,1115 420,1165 500,1235 C560,1290 605,1350 633,1409 L763,1409 Z" fill="#000"/>
<text x="385.65" y="615.20" font-size="22.20" textLength="84.66" lengthAdjust="spacingAndGlyphs" fill="#000">= 0.4665</text>
<text x="334.98" y="640.00" font-size="22.20" textLength="28.30" lengthAdjust="spacingAndGlyphs" fill="#000">BF</text>
<text x="363.13" y="644.30" font-size="16.00" textLength="18.11" lengthAdjust="spacingAndGlyphs" fill="#000"> 0</text><path transform="translate(363.13,644.30) scale(0.00795,-0.00781)" d="M763,0 L583,0 L583,1100 C520,1040 420,975 223,905 L223,1075 C330,1115 420,1165 500,1235 C560,1290 605,1350 633,1409 L763,1409 Z" fill="#000"/>
<text x="385.65" y="640.00" font-size="22.20" textLength="84.38" lengthAdjust="spacingAndGlyphs" fill="#000">= 0.3674</text>
<text x="334.98" y="664.80" font-size="22.20" textLength="28.30" lengthAdjust="spacingAndGlyphs" fill="#000">BF</text>
<text x="363.13" y="669.10" font-size="16.00" textLength="18.11" lengthAdjust="spacingAndGlyphs" fill="#000"> 0</text><path transform="translate(363.13,669.10) scale(0.00795,-0.00781)" d="M763,0 L583,0 L583,1100 C520,1040 420,975 223,905 L223,1075 C330,1115 420,1165 500,1235 C560,1290 605,1350 633,1409 L763,1409 Z" fill="#000"/>
<text x="385.64" y="664.80" font-size="22.20" textLength="84.78" lengthAdjust="spacingAndGlyphs" fill="#000">= 0.2789</text>
<line x1="219.80" y1="689.04" x2="598.25" y2="689.04" stroke="#adadad" stroke-width="2.3" stroke-dasharray="9.7 9.4"/>
<line x1="219.80" y1="834.36" x2="598.25" y2="834.36" stroke="#adadad" stroke-width="2.3" stroke-dasharray="9.7 9.4"/>
<line x1="219.80" y1="913.99" x2="598.25" y2="913.99" stroke="#adadad" stroke-width="2.3" stroke-dasharray="9.7 9.4"/>
<line x1="219.80" y1="986.66" x2="598.25" y2="986.66" stroke="#adadad" stroke-width="2.3" stroke-dasharray="9.7 9.4"/>
<line x1="219.80" y1="761.70" x2="598.25" y2="761.70" stroke="#000" stroke-width="2.8"/>
<line x1="201.40" y1="689.04" x2="201.40" y2="986.66" stroke="#9c9c9c" stroke-width="1.2"/>
<line x1="190.10" y1="689.04" x2="201.40" y2="689.04" stroke="#5f5f5f" stroke-width="1.8"/>
<line x1="190.10" y1="761.70" x2="201.40" y2="761.70" stroke="#5f5f5f" stroke-width="1.8"/>
<line x1="190.10" y1="834.36" x2="201.40" y2="834.36" stroke="#5f5f5f" stroke-width="1.8"/>
<line x1="190.10" y1="913.99" x2="201.40" y2="913.99" stroke="#5f5f5f" stroke-width="1.8"/>
<line x1="190.10" y1="986.66" x2="201.40" y2="986.66" stroke="#5f5f5f" stroke-width="1.8"/>
<line x1="616.90" y1="689.04" x2="616.90" y2="986.66" stroke="#9c9c9c" stroke-width="1.2"/>
<line x1="616.90" y1="689.04" x2="628.20" y2="689.04" stroke="#5f5f5f" stroke-width="1.8"/>
<line x1="616.90" y1="761.70" x2="628.20" y2="761.70" stroke="#5f5f5f" stroke-width="1.8"/>
<line x1="616.90" y1="834.36" x2="628.20" y2="834.36" stroke="#5f5f5f" stroke-width="1.8"/>
<line x1="616.90" y1="913.99" x2="628.20" y2="913.99" stroke="#5f5f5f" stroke-width="1.8"/>
<line x1="616.90" y1="986.66" x2="628.20" y2="986.66" stroke="#5f5f5f" stroke-width="1.8"/>
<line x1="219.80" y1="1001.70" x2="598.25" y2="1001.70" stroke="#9c9c9c" stroke-width="1.2"/>
<line x1="219.80" y1="1001.70" x2="219.80" y2="1012.20" stroke="#5f5f5f" stroke-width="1.8"/>
<line x1="345.95" y1="1001.70" x2="345.95" y2="1012.20" stroke="#5f5f5f" stroke-width="1.8"/>
<line x1="472.10" y1="1001.70" x2="472.10" y2="1012.20" stroke="#5f5f5f" stroke-width="1.8"/>
<line x1="598.25" y1="1001.70" x2="598.25" y2="1012.20" stroke="#5f5f5f" stroke-width="1.8"/>
<text x="167.25" y="697.14" font-size="22.30" textLength="12.43" lengthAdjust="spacingAndGlyphs" fill="#000">3</text>
<text x="167.95" y="769.80" font-size="22.30" textLength="11.35" lengthAdjust="spacingAndGlyphs" fill="#000">1</text>
<text x="141.29" y="842.66" font-size="23.00" textLength="11.74" lengthAdjust="spacingAndGlyphs" fill="#000">1</text>
<line x1="157.60" y1="845.66" x2="164.00" y2="822.66" stroke="#000" stroke-width="1.5"/>
<text x="167.61" y="842.66" font-size="23.00" textLength="11.50" lengthAdjust="spacingAndGlyphs" fill="#000">3</text>
<text x="127.88" y="922.29" font-size="23.00" textLength="11.09" lengthAdjust="spacingAndGlyphs" fill="#000">1</text>
<line x1="143.90" y1="924.99" x2="149.60" y2="902.79" stroke="#000" stroke-width="1.5"/>
<text x="153.87" y="922.29" font-size="23.00" textLength="26.77" lengthAdjust="spacingAndGlyphs" fill="#000">10</text>
<text x="127.88" y="994.96" font-size="23.00" textLength="11.09" lengthAdjust="spacingAndGlyphs" fill="#000">1</text>
<line x1="143.90" y1="997.66" x2="149.60" y2="975.46" stroke="#000" stroke-width="1.5"/>
<text x="154.82" y="994.96" font-size="23.00" textLength="25.79" lengthAdjust="spacingAndGlyphs" fill="#000">30</text>
<text x="212.99" y="1037.70" font-size="22.00" textLength="13.61" lengthAdjust="spacingAndGlyphs" fill="#000">0</text>
<text x="329.31" y="1037.70" font-size="22.00" textLength="33.34" lengthAdjust="spacingAndGlyphs" fill="#000">0.5</text>
<text x="466.01" y="1037.70" font-size="22.00" textLength="11.61" lengthAdjust="spacingAndGlyphs" fill="#000">1</text>
<text x="581.45" y="1037.70" font-size="22.00" textLength="32.79" lengthAdjust="spacingAndGlyphs" fill="#000">1.5</text>
<text x="286.09" y="1080.80" font-size="28.70" textLength="245.84" lengthAdjust="spacingAndGlyphs" fill="#000">Cauchy prior width</text>
<g transform="translate(103.20,861.70) rotate(-90)"><text x="-1.77" y="0.00" font-size="27.50" textLength="27.64" lengthAdjust="spacingAndGlyphs" fill="#000">BF</text></g>
<g transform="translate(107.90,832.00) rotate(-90)"><text x="-1.44" y="0.00" font-size="19.00" textLength="20.97" lengthAdjust="spacingAndGlyphs" fill="#000">10</text></g>
<path d="M258,743.5 L258,708 M250.3,720 L258,707.8 L265.7,720" fill="none" stroke="#000" stroke-width="2.6" stroke-linecap="round" stroke-linejoin="round"/>
<path d="M258,932.8 L258,967.7 M250.3,955.5 L258,967.8 L265.7,955.5" fill="none" stroke="#000" stroke-width="2.6" stroke-linecap="round" stroke-linejoin="round"/>
<text x="276.86" y="731.70" font-size="25.20" textLength="163.27" lengthAdjust="spacingAndGlyphs" fill="#000">Evidence for H</text>
<text x="439.19" y="736.50" font-size="16.50" textLength="10.76" lengthAdjust="spacingAndGlyphs" fill="#000"> </text><path transform="translate(439.19,736.50) scale(0.00944,-0.00806)" d="M763,0 L583,0 L583,1100 C520,1040 420,975 223,905 L223,1075 C330,1115 420,1165 500,1235 C560,1290 605,1350 633,1409 L763,1409 Z" fill="#000"/>
<text x="276.76" y="956.60" font-size="25.20" textLength="163.17" lengthAdjust="spacingAndGlyphs" fill="#000">Evidence for H</text>
<text x="439.51" y="961.50" font-size="17.60" textLength="9.77" lengthAdjust="spacingAndGlyphs" fill="#000">0</text>
<text x="629.35" y="733.80" font-size="22.00" textLength="106.65" lengthAdjust="spacingAndGlyphs" fill="#000">Anecdotal</text>
<text x="629.35" y="805.40" font-size="22.00" textLength="106.65" lengthAdjust="spacingAndGlyphs" fill="#000">Anecdotal</text>
<text x="627.60" y="882.30" font-size="22.00" textLength="102.78" lengthAdjust="spacingAndGlyphs" fill="#000">Moderate</text>
<text x="628.30" y="958.20" font-size="22.00" textLength="71.15" lengthAdjust="spacingAndGlyphs" fill="#000">Strong</text>
<g transform="translate(746.10,783.90) rotate(90)"><text x="-2.24" y="0.00" font-size="28.50" textLength="112.25" lengthAdjust="spacingAndGlyphs" fill="#000">Evidence</text></g>
<path d="M219.93,761.74 L223.11,762.71 L226.28,763.69 L229.46,764.68 L232.64,765.67 L235.82,766.66 L239.00,767.65 L242.18,768.65 L245.36,769.64 L248.54,770.64 L251.72,771.63 L254.90,772.63 L258.08,773.62 L261.26,774.60 L264.43,775.59 L267.61,776.57 L270.79,777.55 L273.97,778.52 L277.15,779.49 L280.33,780.46 L283.51,781.42 L286.69,782.38 L289.87,783.33 L293.05,784.27 L296.23,785.21 L299.41,786.15 L302.59,787.08 L305.76,788.00 L308.94,788.92 L312.12,789.83 L315.30,790.73 L318.48,791.63 L321.66,792.52 L324.84,793.41 L328.02,794.29 L331.20,795.17 L334.38,796.03 L337.56,796.89 L340.74,797.75 L343.91,798.60 L347.09,799.44 L350.27,800.28 L353.45,801.11 L356.63,801.93 L359.81,802.75 L362.99,803.56 L366.17,804.36 L369.35,805.16 L372.53,805.95 L375.71,806.74 L378.89,807.52 L382.06,808.29 L385.24,809.06 L388.42,809.82 L391.60,810.58 L394.78,811.33 L397.96,812.08 L401.14,812.81 L404.32,813.55 L407.50,814.28 L410.68,815.00 L413.86,815.71 L417.04,816.42 L420.22,817.13 L423.39,817.83 L426.57,818.52 L429.75,819.21 L432.93,819.90 L436.11,820.58 L439.29,821.25 L442.47,821.92 L445.65,822.58 L448.83,823.24 L452.01,823.89 L455.19,824.54 L458.37,825.19 L461.54,825.82 L464.72,826.46 L467.90,827.09 L471.08,827.71 L474.26,828.33 L477.44,828.95 L480.62,829.56 L483.80,830.17 L486.98,830.77 L490.16,831.37 L493.34,831.96 L496.52,832.55 L499.70,833.14 L502.87,833.72 L506.05,834.30 L509.23,834.87 L512.41,835.44 L515.59,836.00 L518.77,836.56 L521.95,837.12 L525.13,837.67 L528.31,838.22 L531.49,838.77 L534.67,839.31 L537.85,839.85 L541.02,840.38 L544.20,840.92 L547.38,841.44 L550.56,841.97 L553.74,842.49 L556.92,843.00 L560.10,843.52 L563.28,844.03 L566.46,844.54 L569.64,845.04 L572.82,845.54 L576.00,846.04 L579.17,846.53 L582.35,847.02 L585.53,847.51 L588.71,847.99 L591.89,848.48 L595.07,848.95 L598.25,849.43" fill="none" stroke="#000" stroke-width="2.7" stroke-linejoin="round" stroke-linecap="round"/>
<circle cx="219.93" cy="761.74" r="4.20" fill="#ff0000" stroke="#000" stroke-width="1.2"/>
<circle cx="398.20" cy="812.13" r="4.30" fill="#bebebe" stroke="#000" stroke-width="1.3"/>
<circle cx="472.10" cy="827.93" r="4.30" fill="#000" stroke="#000" stroke-width="1.3"/>
<circle cx="576.60" cy="846.15" r="4.30" fill="#fff" stroke="#000" stroke-width="1.3"/>
</g>
<g id="p3">
<line x1="29.00" y1="1099.00" x2="32.00" y2="1099.00" stroke="#333" stroke-width="1.5"/>
<line x1="162.00" y1="1099.00" x2="165.00" y2="1099.00" stroke="#333" stroke-width="1.5"/>
<text x="153.46" y="1164.80" font-size="24.30" textLength="33.28" lengthAdjust="spacingAndGlyphs" fill="#000">BF</text>
<text x="188.21" y="1169.80" font-size="17.50" textLength="22.38" lengthAdjust="spacingAndGlyphs" fill="#000"> 0</text><path transform="translate(188.21,1169.80) scale(0.00982,-0.00854)" d="M763,0 L583,0 L583,1100 C520,1040 420,975 223,905 L223,1075 C330,1115 420,1165 500,1235 C560,1290 605,1350 633,1409 L763,1409 Z" fill="#000"/>
<text x="216.00" y="1164.80" font-size="24.30" textLength="89.36" lengthAdjust="spacingAndGlyphs" fill="#000">= 0.466</text>
<text x="153.46" y="1198.80" font-size="24.30" textLength="33.28" lengthAdjust="spacingAndGlyphs" fill="#000">BF</text>
<text x="189.14" y="1204.60" font-size="17.50" textLength="21.75" lengthAdjust="spacingAndGlyphs" fill="#000">0 </text><path transform="translate(200.01,1204.60) scale(0.00955,-0.00854)" d="M763,0 L583,0 L583,1100 C520,1040 420,975 223,905 L223,1075 C330,1115 420,1165 500,1235 C560,1290 605,1350 633,1409 L763,1409 Z" fill="#000"/>
<text x="216.01" y="1198.80" font-size="24.30" textLength="88.97" lengthAdjust="spacingAndGlyphs" fill="#000">= 2. 44</text><path transform="translate(260.85,1198.80) scale(0.01291,-0.01187)" d="M763,0 L583,0 L583,1100 C520,1040 420,975 223,905 L223,1075 C330,1115 420,1165 500,1235 C560,1290 605,1350 633,1409 L763,1409 Z" fill="#000"/>
<circle cx="423.8" cy="1175.6" r="31.6" fill="#fff" stroke="#000" stroke-width="3.2"/><path d="M423.8,1175.6 L397.22,1158.51 A31.6,31.6 0 0 1 450.38,1158.51 Z" fill="#8b0000" stroke="#000" stroke-width="3.2" stroke-linejoin="round"/><circle cx="423.8" cy="1175.6" r="31.6" fill="none" stroke="#000" stroke-width="3.2"/>
<text x="376.53" y="1133.30" font-size="22.80" textLength="94.03" lengthAdjust="spacingAndGlyphs" fill="#000">data I H </text><path transform="translate(457.67,1133.30) scale(0.01131,-0.01113)" d="M763,0 L583,0 L583,1100 C520,1040 420,975 223,905 L223,1075 C330,1115 420,1165 500,1235 C560,1290 605,1350 633,1409 L763,1409 Z" fill="#000"/>
<text x="376.53" y="1236.00" font-size="22.80" textLength="93.88" lengthAdjust="spacingAndGlyphs" fill="#000">data I H0</text>
<circle cx="554.50" cy="1135.30" r="5.60" fill="#bebebe" stroke="#000" stroke-width="1.2"/>
<text x="555.04" y="1144.90" font-size="23.50" textLength="52.61" lengthAdjust="spacingAndGlyphs" fill="#000">user</text>
<circle cx="555.00" cy="1175.80" r="4.40" fill="#000" stroke="#000" stroke-width="1.2"/>
<text x="558.04" y="1185.70" font-size="23.50" textLength="52.60" lengthAdjust="spacingAndGlyphs" fill="#000">wide</text>
<circle cx="554.50" cy="1215.50" r="3.50" fill="#fff" stroke="#000" stroke-width="1.2"/>
<text x="555.04" y="1225.40" font-size="23.50" textLength="108.36" lengthAdjust="spacingAndGlyphs" fill="#000">ultrawide</text>
<line x1="173.40" y1="1258.34" x2="637.80" y2="1258.34" stroke="#aaa" stroke-width="2.8" stroke-dasharray="11.6 11.7"/>
<line x1="173.40" y1="1335.76" x2="637.80" y2="1335.76" stroke="#aaa" stroke-width="2.8" stroke-dasharray="11.6 11.7"/>
<line x1="173.40" y1="1477.04" x2="637.80" y2="1477.04" stroke="#aaa" stroke-width="2.8" stroke-dasharray="11.6 11.7"/>
<line x1="173.40" y1="1554.46" x2="637.80" y2="1554.46" stroke="#aaa" stroke-width="2.8" stroke-dasharray="11.6 11.7"/>
<line x1="173.40" y1="1625.10" x2="637.80" y2="1625.10" stroke="#aaa" stroke-width="2.8" stroke-dasharray="11.6 11.7"/>
<line x1="173.40" y1="1406.40" x2="637.80" y2="1406.40" stroke="#000" stroke-width="3.0"/>
<line x1="150.50" y1="1258.34" x2="150.50" y2="1625.10" stroke="#9c9c9c" stroke-width="1.2"/>
<line x1="136.40" y1="1258.34" x2="150.50" y2="1258.34" stroke="#5f5f5f" stroke-width="1.8"/>
<line x1="136.40" y1="1335.76" x2="150.50" y2="1335.76" stroke="#5f5f5f" stroke-width="1.8"/>
<line x1="136.40" y1="1406.40" x2="150.50" y2="1406.40" stroke="#5f5f5f" stroke-width="1.8"/>
<line x1="136.40" y1="1477.04" x2="150.50" y2="1477.04" stroke="#5f5f5f" stroke-width="1.8"/>
<line x1="136.40" y1="1554.46" x2="150.50" y2="1554.46" stroke="#5f5f5f" stroke-width="1.8"/>
<line x1="136.40" y1="1625.10" x2="150.50" y2="1625.10" stroke="#5f5f5f" stroke-width="1.8"/>
<line x1="661.30" y1="1258.34" x2="661.30" y2="1625.10" stroke="#9c9c9c" stroke-width="1.2"/>
<line x1="661.30" y1="1258.34" x2="674.30" y2="1258.34" stroke="#5f5f5f" stroke-width="1.8"/>
<line x1="661.30" y1="1335.76" x2="674.30" y2="1335.76" stroke="#5f5f5f" stroke-width="1.8"/>
<line x1="661.30" y1="1406.40" x2="674.30" y2="1406.40" stroke="#5f5f5f" stroke-width="1.8"/>
<line x1="661.30" y1="1477.04" x2="674.30" y2="1477.04" stroke="#5f5f5f" stroke-width="1.8"/>
<line x1="661.30" y1="1554.46" x2="674.30" y2="1554.46" stroke="#5f5f5f" stroke-width="1.8"/>
<line x1="661.30" y1="1625.10" x2="674.30" y2="1625.10" stroke="#5f5f5f" stroke-width="1.8"/>
<line x1="173.40" y1="1643.30" x2="637.80" y2="1643.30" stroke="#9c9c9c" stroke-width="1.2"/>
<line x1="173.40" y1="1643.30" x2="173.40" y2="1656.40" stroke="#5f5f5f" stroke-width="1.8"/>
<line x1="266.28" y1="1643.30" x2="266.28" y2="1656.40" stroke="#5f5f5f" stroke-width="1.8"/>
<line x1="359.16" y1="1643.30" x2="359.16" y2="1656.40" stroke="#5f5f5f" stroke-width="1.8"/>
<line x1="452.04" y1="1643.30" x2="452.04" y2="1656.40" stroke="#5f5f5f" stroke-width="1.8"/>
<line x1="544.92" y1="1643.30" x2="544.92" y2="1656.40" stroke="#5f5f5f" stroke-width="1.8"/>
<line x1="637.80" y1="1643.30" x2="637.80" y2="1656.40" stroke="#5f5f5f" stroke-width="1.8"/>
<text x="92.22" y="1268.34" font-size="28.00" textLength="31.79" lengthAdjust="spacingAndGlyphs" fill="#000">10</text>
<text x="108.50" y="1345.76" font-size="28.00" textLength="14.66" lengthAdjust="spacingAndGlyphs" fill="#000">3</text>
<text x="109.17" y="1416.40" font-size="28.00" textLength="14.06" lengthAdjust="spacingAndGlyphs" fill="#000">1</text>
<text x="75.66" y="1487.04" font-size="28.00" textLength="14.19" lengthAdjust="spacingAndGlyphs" fill="#000">1</text>
<line x1="96.00" y1="1490.54" x2="104.50" y2="1462.94" stroke="#000" stroke-width="1.8"/>
<text x="108.39" y="1487.04" font-size="28.00" textLength="14.78" lengthAdjust="spacingAndGlyphs" fill="#000">3</text>
<text x="60.04" y="1564.46" font-size="28.00" textLength="14.32" lengthAdjust="spacingAndGlyphs" fill="#000">1</text>
<line x1="79.20" y1="1568.56" x2="87.20" y2="1539.86" stroke="#000" stroke-width="1.8"/>
<text x="91.98" y="1564.46" font-size="28.00" textLength="32.46" lengthAdjust="spacingAndGlyphs" fill="#000">10</text>
<text x="60.04" y="1635.10" font-size="28.00" textLength="14.32" lengthAdjust="spacingAndGlyphs" fill="#000">1</text>
<line x1="79.20" y1="1639.20" x2="87.20" y2="1610.50" stroke="#000" stroke-width="1.8"/>
<text x="93.13" y="1635.10" font-size="28.00" textLength="31.27" lengthAdjust="spacingAndGlyphs" fill="#000">30</text>
<text x="165.55" y="1687.80" font-size="28.00" textLength="15.71" lengthAdjust="spacingAndGlyphs" fill="#000">0</text>
<text x="258.04" y="1687.80" font-size="28.00" textLength="16.48" lengthAdjust="spacingAndGlyphs" fill="#000">2</text>
<text x="351.80" y="1687.80" font-size="28.00" textLength="14.90" lengthAdjust="spacingAndGlyphs" fill="#000">4</text>
<text x="443.80" y="1687.80" font-size="28.00" textLength="16.27" lengthAdjust="spacingAndGlyphs" fill="#000">6</text>
<text x="536.92" y="1687.80" font-size="28.00" textLength="16.00" lengthAdjust="spacingAndGlyphs" fill="#000">8</text>
<text x="620.51" y="1687.80" font-size="28.00" textLength="33.47" lengthAdjust="spacingAndGlyphs" fill="#000">10</text>
<text x="395.95" y="1740.80" font-size="33.00" textLength="18.85" lengthAdjust="spacingAndGlyphs" fill="#000">n</text>
<g transform="translate(30.00,1471.70) rotate(-90)"><text x="-2.25" y="0.00" font-size="34.50" textLength="35.05" lengthAdjust="spacingAndGlyphs" fill="#000">BF</text></g>
<g transform="translate(35.30,1434.70) rotate(-90)"><text x="-1.80" y="0.00" font-size="24.50" textLength="26.22" lengthAdjust="spacingAndGlyphs" fill="#000">10</text></g>
<path d="M219.7,1316.6 L219.7,1278.6 M210.6,1293.4 L219.7,1278.4 L228.8,1293.4" fill="none" stroke="#000" stroke-width="2.8" stroke-linecap="round" stroke-linejoin="round"/>
<path d="M219.8,1572.4 L219.8,1607.3 M210.7,1592.4 L219.8,1607.4 L228.9,1592.4" fill="none" stroke="#000" stroke-width="2.8" stroke-linecap="round" stroke-linejoin="round"/>
<text x="243.09" y="1305.30" font-size="30.50" textLength="200.30" lengthAdjust="spacingAndGlyphs" fill="#000">Evidence for H</text>
<text x="441.31" y="1311.50" font-size="21.50" textLength="14.76" lengthAdjust="spacingAndGlyphs" fill="#000"> </text><path transform="translate(441.31,1311.50) scale(0.01296,-0.01050)" d="M763,0 L583,0 L583,1100 C520,1040 420,975 223,905 L223,1075 C330,1115 420,1165 500,1235 C560,1290 605,1350 633,1409 L763,1409 Z" fill="#000"/>
<text x="243.09" y="1597.40" font-size="30.50" textLength="200.30" lengthAdjust="spacingAndGlyphs" fill="#000">Evidence for H</text>
<text x="442.66" y="1603.50" font-size="21.50" textLength="11.98" lengthAdjust="spacingAndGlyphs" fill="#000">0</text>
<text x="673.15" y="1306.50" font-size="25.50" textLength="125.97" lengthAdjust="spacingAndGlyphs" fill="#000">Moderate</text>
<text x="675.54" y="1381.00" font-size="25.50" textLength="130.62" lengthAdjust="spacingAndGlyphs" fill="#000">Anecdotal</text>
<text x="675.54" y="1451.70" font-size="25.50" textLength="130.62" lengthAdjust="spacingAndGlyphs" fill="#000">Anecdotal</text>
<text x="673.15" y="1525.10" font-size="25.50" textLength="125.97" lengthAdjust="spacingAndGlyphs" fill="#000">Moderate</text>
<text x="674.25" y="1599.00" font-size="25.50" textLength="87.46" lengthAdjust="spacingAndGlyphs" fill="#000">Strong</text>
<g transform="translate(818.00,1375.70) rotate(90)"><text x="-2.74" y="0.00" font-size="33.50" textLength="137.42" lengthAdjust="spacingAndGlyphs" fill="#000">Evidence</text></g>
<circle cx="219.84" cy="1406.40" r="5.50" fill="#bebebe" stroke="#000" stroke-width="1.8"/>
<circle cx="219.84" cy="1406.40" r="3.70" fill="#fff" stroke="#000" stroke-width="1.4"/>
<circle cx="219.84" cy="1406.40" r="3.70" fill="#000" stroke="#000" stroke-width="1.2"/>
<circle cx="266.28" cy="1398.20" r="5.50" fill="#bebebe" stroke="#000" stroke-width="1.8"/>
<circle cx="266.28" cy="1401.40" r="3.70" fill="#fff" stroke="#000" stroke-width="1.4"/>
<circle cx="266.28" cy="1398.90" r="3.70" fill="#000" stroke="#000" stroke-width="1.2"/>
<circle cx="312.72" cy="1435.40" r="5.50" fill="#bebebe" stroke="#000" stroke-width="1.8"/>
<circle cx="312.72" cy="1459.50" r="3.70" fill="#fff" stroke="#000" stroke-width="1.4"/>
<circle cx="312.72" cy="1446.20" r="3.70" fill="#000" stroke="#000" stroke-width="1.2"/>
<circle cx="359.16" cy="1455.30" r="5.50" fill="#bebebe" stroke="#000" stroke-width="1.8"/>
<circle cx="359.16" cy="1486.80" r="3.70" fill="#fff" stroke="#000" stroke-width="1.4"/>
<circle cx="359.16" cy="1469.90" r="3.70" fill="#000" stroke="#000" stroke-width="1.2"/>
<circle cx="405.60" cy="1465.40" r="5.50" fill="#bebebe" stroke="#000" stroke-width="1.8"/>
<circle cx="405.60" cy="1500.00" r="3.70" fill="#fff" stroke="#000" stroke-width="1.4"/>
<circle cx="405.60" cy="1481.60" r="3.70" fill="#000" stroke="#000" stroke-width="1.2"/>
<circle cx="452.04" cy="1469.50" r="5.50" fill="#bebebe" stroke="#000" stroke-width="1.8"/>
<circle cx="452.04" cy="1505.10" r="3.70" fill="#fff" stroke="#000" stroke-width="1.4"/>
<circle cx="452.04" cy="1486.50" r="3.70" fill="#000" stroke="#000" stroke-width="1.2"/>
<circle cx="498.48" cy="1472.70" r="5.50" fill="#bebebe" stroke="#000" stroke-width="1.8"/>
<circle cx="498.48" cy="1508.60" r="3.70" fill="#fff" stroke="#000" stroke-width="1.4"/>
<circle cx="498.48" cy="1490.30" r="3.70" fill="#000" stroke="#000" stroke-width="1.2"/>
<circle cx="544.92" cy="1464.00" r="5.50" fill="#bebebe" stroke="#000" stroke-width="1.8"/>
<circle cx="544.92" cy="1498.60" r="3.70" fill="#fff" stroke="#000" stroke-width="1.4"/>
<circle cx="544.92" cy="1480.30" r="3.70" fill="#000" stroke="#000" stroke-width="1.2"/>
<circle cx="591.36" cy="1455.40" r="5.50" fill="#bebebe" stroke="#000" stroke-width="1.8"/>
<circle cx="591.36" cy="1488.40" r="3.70" fill="#fff" stroke="#000" stroke-width="1.4"/>
<circle cx="591.36" cy="1470.80" r="3.70" fill="#000" stroke="#000" stroke-width="1.2"/>
</g>
</svg></body></html>
